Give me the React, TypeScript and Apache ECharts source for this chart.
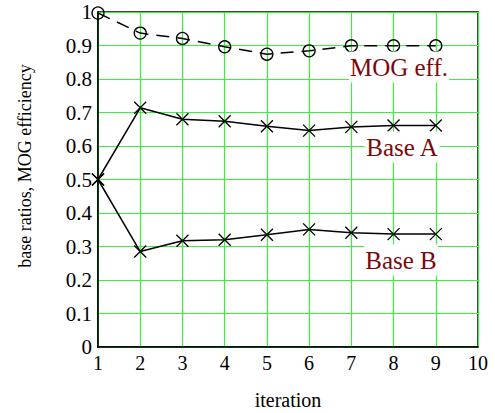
import React, { useEffect, useRef } from "react";
import * as echarts from "echarts";

const iterations = [1, 2, 3, 4, 5, 6, 7, 8, 9];
const mogEff = [0.997, 0.937, 0.921, 0.896, 0.874, 0.884, 0.899, 0.899, 0.899];
const baseA = [0.5, 0.714, 0.68, 0.674, 0.659, 0.646, 0.657, 0.661, 0.661];
const baseB = [0.5, 0.285, 0.317, 0.32, 0.335, 0.351, 0.341, 0.337, 0.337];
const seriesLabels = ["MOG eff.", "Base A", "Base B"];

const FONT = "Liberation Serif";
const CROSS = "path://M0,0L10,10M10,0L0,10";

export default function App() {
  const ref = useRef<HTMLDivElement>(null);
  useEffect(() => {
    if (!ref.current) return;
    const chart = echarts.init(ref.current, null, { renderer: "svg" });
    const pairs = (ys: number[]) => iterations.map((x, i) => [x, ys[i]]);
    const crossSeries = (name: string, ys: number[]) => ({
      name,
      type: "line",
      data: pairs(ys),
      symbol: CROSS,
      symbolSize: 12,
      lineStyle: { color: "#000", width: 1.5 },
      itemStyle: { color: "transparent", borderColor: "#000", borderWidth: 1.3 },
      z: 5,
    });
    const label = (i: number, x: number, y: number) => ({
      type: "text",
      x,
      y,
      z: 10,
      style: {
        text: seriesLabels[i],
        fontFamily: FONT,
        fontSize: 25,
        fill: "#7a0a0a",
        align: "center",
        verticalAlign: "middle",
        backgroundColor: "#fff",
        padding: [3, 1],
      },
    });
    chart.setOption({
      animation: false,
      backgroundColor: "#fff",
      textStyle: { fontFamily: FONT },
      grid: { left: 98, top: 12, right: 17, bottom: 66, show: true, borderColor: "#000", borderWidth: 1.5, backgroundColor: "transparent" },
      xAxis: {
        type: "value",
        min: 1,
        max: 10,
        interval: 1,
        axisLine: { show: true, lineStyle: { color: "#000", width: 1.5 } },
        axisTick: { show: false },
        axisLabel: { color: "#000", fontSize: 20, fontFamily: FONT, margin: 6 },
        splitLine: { show: true, lineStyle: { color: "#3ef03e", width: 1.2 } },
      },
      yAxis: {
        type: "value",
        min: 0,
        max: 1,
        interval: 0.1,
        axisLine: { show: true, lineStyle: { color: "#000", width: 1.5 } },
        axisTick: { show: false },
        axisLabel: { color: "#000", fontSize: 21, fontFamily: FONT, margin: 6 },
        splitLine: { show: true, lineStyle: { color: "#3ef03e", width: 1.2 } },
      },
      graphic: [
        label(0, 399, 67),
        label(1, 402, 147),
        label(2, 401, 260),
        {
          type: "text",
          x: 288,
          y: 400,
          style: { text: "iteration", fontFamily: FONT, fontSize: 20, fill: "#000", align: "center", verticalAlign: "middle" },
        },
        {
          type: "text",
          x: 25,
          y: 166,
          rotation: Math.PI / 2,
          style: { text: "base ratios, MOG efficiency", fontFamily: FONT, fontSize: 18, fill: "#000", align: "center", verticalAlign: "middle" },
        },
      ],
      series: [
        {
          name: seriesLabels[0],
          type: "line",
          data: pairs(mogEff),
          symbol: "circle",
          symbolSize: 12,
          lineStyle: { color: "#000", width: 1.5, type: [13, 8] },
          itemStyle: { color: "transparent", borderColor: "#000", borderWidth: 1.3 },
          z: 5,
        },
        crossSeries(seriesLabels[1], baseA),
        crossSeries(seriesLabels[2], baseB),
      ],
    });
    return () => chart.dispose();
  }, []);
  return <div ref={ref} style={{ width: 495, height: 413, position: "absolute", left: 0, top: 0 }} />;
}
